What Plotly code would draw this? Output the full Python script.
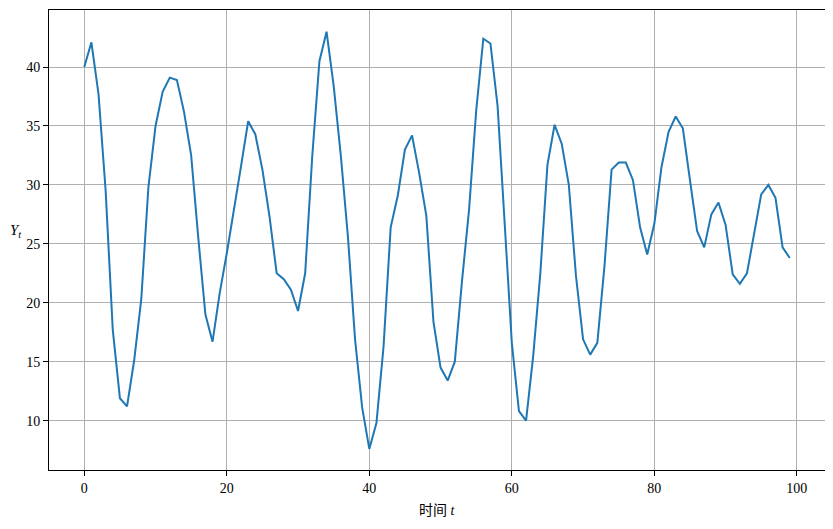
import plotly.graph_objects as go

t = list(range(100))
Y = [40.0, 42.1, 37.7, 29.5, 17.7, 11.9, 11.2, 15.1, 20.3, 29.8,
     35.0, 37.9, 39.1, 38.9, 36.2, 32.5, 25.5, 19.0, 16.7, 20.8,
     24.2, 27.8, 31.6, 35.4, 34.3, 31.3, 27.3, 22.5, 22.0, 21.1,
     19.3, 22.5, 32.5, 40.5, 43.0, 38.4, 32.5, 25.6, 16.9, 11.1,
     7.6, 9.8, 16.3, 26.4, 29.1, 33.0, 34.2, 31.0, 27.4, 18.4,
     14.5, 13.4, 15.0, 21.8, 27.9, 36.3, 42.4, 42.0, 36.7, 26.7,
     16.6, 10.8, 10.0, 15.5, 22.5, 31.7, 35.1, 33.5, 30.0, 22.3,
     16.9, 15.6, 16.6, 23.1, 31.3, 31.9, 31.9, 30.4, 26.4, 24.1,
     26.7, 31.5, 34.5, 35.8, 34.8, 30.4, 26.1, 24.7, 27.5, 28.5,
     26.6, 22.4, 21.6, 22.5, 25.9, 29.2, 30.0, 28.9, 24.7, 23.8]

x_ticks = [0, 20, 40, 60, 80, 100]
y_ticks = [10, 15, 20, 25, 30, 35, 40]

FONT = "Liberation Serif, Noto Sans CJK SC, serif"

fig = go.Figure()
fig.add_trace(go.Scatter(x=t, y=Y, mode="lines",
                         line=dict(color="#1f77b4", width=2)))

axis_common = dict(showline=True, linecolor="black", linewidth=1, mirror=True,
                   ticks="outside", ticklen=5, tickcolor="black", tickwidth=1,
                   showgrid=True, gridcolor="#b0b0b0", gridwidth=1,
                   zeroline=False, tickfont=dict(family=FONT, size=14, color="black"))

fig.update_xaxes(range=[-4.95, 103.95], tickvals=x_ticks, **axis_common)
fig.update_yaxes(range=[5.81, 44.84], tickvals=y_ticks, **axis_common)

fig.add_annotation(text="<i>Y<sub>t</sub></i>", xref="paper", yref="paper",
                   x=-0.042, y=0.52, showarrow=False, xanchor="center", yanchor="middle",
                   font=dict(family=FONT, size=15, color="black"))
fig.add_annotation(text="时间 <i>t</i>", xref="paper", yref="paper",
                   x=0.5, y=-0.087, showarrow=False, xanchor="center", yanchor="middle",
                   font=dict(family=FONT, size=14, color="black"))

fig.update_layout(width=825, height=521, margin=dict(l=41, r=8, t=2, b=59),
                  paper_bgcolor="white", plot_bgcolor="white", showlegend=False,
                  font=dict(family=FONT))

fig.write_html("out.html")
